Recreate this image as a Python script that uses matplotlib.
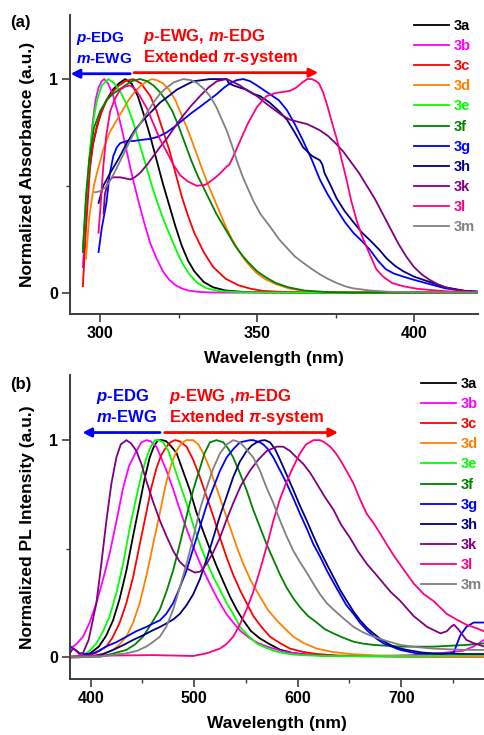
import matplotlib
matplotlib.use('Agg')
import matplotlib.pyplot as plt
from matplotlib.ticker import MultipleLocator

plt.rcParams['font.family'] = ['Liberation Sans', 'DejaVu Sans']
plt.rcParams['font.weight'] = 'bold'
plt.rcParams['mathtext.fontset'] = 'custom'
plt.rcParams['mathtext.rm'] = 'Liberation Sans:bold'
plt.rcParams['mathtext.it'] = 'Liberation Sans:italic:bold'
plt.rcParams['mathtext.bf'] = 'Liberation Sans:bold'

names = ['3a', '3b', '3c', '3d', '3e', '3f', '3g', '3h', '3k', '3l', '3m']
colors = ['#000000', '#FF00FF', '#FF0000', '#FF8000', '#00FF00', '#008000',
          '#0000FF', '#000080', '#800080', '#FF0080', '#808080']

# ---------- (a) absorbance ----------
abs_3a_x = [294.6, 296, 297.5, 299, 300.5, 302, 304, 306, 308, 310, 312, 314, 316, 318, 320, 322, 324, 326, 328, 330, 333, 336, 340, 345, 350, 360, 420]
abs_3a_y = [0.2, 0.5, 0.68, 0.78, 0.85, 0.9, 0.95, 0.98, 1.0, 0.98, 0.92, 0.83, 0.73, 0.62, 0.51, 0.41, 0.31, 0.22, 0.15, 0.1, 0.05, 0.025, 0.01, 0.004, 0.002, 0, 0]
abs_3b_x = [294.5, 295.5, 296.5, 297.5, 298.5, 299.5, 300.5, 301.3, 302.5, 304, 305.5, 307, 308.5, 310, 312, 314, 316, 318, 320, 322, 324, 326, 328, 331, 335, 340, 420]
abs_3b_y = [0.12, 0.35, 0.6, 0.78, 0.9, 0.96, 0.99, 1.0, 0.98, 0.93, 0.85, 0.76, 0.66, 0.56, 0.44, 0.33, 0.23, 0.16, 0.1, 0.06, 0.035, 0.02, 0.01, 0.004, 0.001, 0, 0]
abs_3c_x = [294.5, 295.5, 296.8, 298, 300, 302, 304, 306, 308, 310.5, 313, 316, 318, 320, 322, 324, 326, 328, 330, 333, 336, 340, 344, 348, 352, 360, 420]
abs_3c_y = [0.03, 0.3, 0.59, 0.72, 0.83, 0.9, 0.94, 0.97, 0.99, 1.0, 0.98, 0.92, 0.85, 0.76, 0.67, 0.56, 0.45, 0.36, 0.28, 0.19, 0.12, 0.065, 0.035, 0.018, 0.008, 0.002, 0]
abs_3d_x = [295.5, 296.5, 298, 299, 301, 303, 305, 307, 309, 311, 313, 315, 316.5, 318, 320, 322, 324, 326, 328, 330, 332, 334, 336, 338, 340, 342, 344, 346, 348, 350, 353, 356, 360, 365, 370, 380, 420]
abs_3d_y = [0.16, 0.35, 0.5, 0.56, 0.67, 0.75, 0.8, 0.85, 0.9, 0.94, 0.97, 0.99, 1.0, 0.995, 0.98, 0.95, 0.9, 0.83, 0.76, 0.68, 0.6, 0.52, 0.45, 0.38, 0.31, 0.25, 0.2, 0.155, 0.12, 0.09, 0.06, 0.04, 0.02, 0.008, 0.003, 0, 0]
abs_3e_x = [294.5, 295.5, 296.8, 298, 299, 300.5, 302.6, 304.5, 306.5, 308.5, 310.5, 312.5, 314.5, 316.5, 318.5, 320.5, 322.5, 324.5, 326.5, 328.5, 331, 334, 338, 345, 360, 420]
abs_3e_y = [0.2, 0.45, 0.67, 0.82, 0.9, 0.97, 1.0, 0.98, 0.94, 0.88, 0.8, 0.7, 0.6, 0.5, 0.41, 0.33, 0.26, 0.19, 0.13, 0.085, 0.045, 0.02, 0.007, 0.002, 0, 0]
abs_3f_x = [294.5, 295.5, 296.5, 298, 300, 302, 304, 306, 308, 310, 312.7, 315, 317, 319, 321, 323, 325, 327, 329, 331, 333, 335, 337, 339, 341, 343, 345, 347, 350, 353, 356, 360, 365, 372, 380, 420]
abs_3f_y = [0.19, 0.45, 0.62, 0.77, 0.85, 0.9, 0.93, 0.95, 0.97, 0.99, 1.0, 0.99, 0.97, 0.94, 0.9, 0.85, 0.78, 0.7, 0.62, 0.55, 0.49, 0.43, 0.37, 0.32, 0.27, 0.22, 0.18, 0.145, 0.1, 0.07, 0.045, 0.025, 0.01, 0.003, 0, 0]
abs_3g_x = [299.5, 300.5, 302, 303, 304.2, 305.3, 306.4, 308.5, 310.6, 313, 316, 318.5, 321.2, 324, 326.5, 329, 331.8, 334.5, 337.2, 339.5, 341.4, 343.5, 345.6, 347.8, 350, 352, 354, 357, 359.5, 362, 364.7, 367.5, 370, 372.5, 375.4, 378, 380.7, 383.5, 386, 388.5, 391, 393.5, 396.6, 400, 405, 410, 416, 420]
abs_3g_y = [0.19, 0.3, 0.42, 0.55, 0.64, 0.68, 0.7, 0.71, 0.71, 0.715, 0.72, 0.73, 0.75, 0.78, 0.81, 0.84, 0.87, 0.9, 0.93, 0.96, 0.98, 0.995, 1.0, 0.99, 0.97, 0.95, 0.93, 0.9, 0.855, 0.79, 0.71, 0.62, 0.53, 0.46, 0.39, 0.33, 0.28, 0.24, 0.2, 0.15, 0.11, 0.09, 0.075, 0.06, 0.04, 0.02, 0.008, 0.005]
abs_3h_x = [299.5, 301, 303.2, 306, 308.5, 311, 313.8, 316.5, 319.1, 321.8, 324.4, 327, 329.7, 332.5, 335, 338, 340.3, 341, 342.5, 344.5, 346.7, 349, 351, 354, 357, 359.5, 362, 364.7, 367.5, 370, 370.8, 371.5, 373.5, 375.4, 378, 380.7, 383.5, 386, 389, 391.3, 394, 396.6, 400, 405, 410, 416, 420]
abs_3h_y = [0.42, 0.5, 0.56, 0.63, 0.7, 0.76, 0.81, 0.85, 0.89, 0.92, 0.95, 0.97, 0.99, 0.995, 1.0, 1.0, 1.0, 0.98, 0.97, 0.96, 0.95, 0.93, 0.92, 0.89, 0.85, 0.81, 0.75, 0.68, 0.64, 0.62, 0.6, 0.56, 0.5, 0.44, 0.38, 0.33, 0.28, 0.245, 0.2, 0.16, 0.125, 0.1, 0.075, 0.05, 0.025, 0.009, 0.005]
abs_3k_x = [301.1, 301.5, 302.5, 304, 306.4, 308, 309.6, 311, 312.7, 315, 317, 319, 321.2, 324, 326.5, 329, 331.8, 334.5, 337.2, 340.3, 342.5, 344.6, 347, 350, 352.5, 355.2, 358, 360.5, 363, 365.8, 368, 370, 372.5, 375, 377.5, 380, 382.5, 385, 387.5, 390, 392.5, 395, 397.5, 400, 402.5, 405, 407.5, 410, 413, 416, 420]
abs_3k_y = [0.37, 0.46, 0.52, 0.54, 0.54, 0.535, 0.53, 0.54, 0.56, 0.6, 0.64, 0.68, 0.72, 0.78, 0.83, 0.875, 0.92, 0.96, 0.99, 1.0, 0.985, 0.97, 0.945, 0.92, 0.89, 0.86, 0.83, 0.81, 0.8, 0.79, 0.775, 0.76, 0.735, 0.7, 0.66, 0.61, 0.56, 0.5, 0.44, 0.37, 0.3, 0.23, 0.17, 0.12, 0.085, 0.06, 0.04, 0.025, 0.015, 0.008, 0.004]
abs_3l_x = [299.5, 300.2, 301, 302, 303.2, 304.8, 306.4, 308, 309.6, 311, 312.7, 315, 317, 319, 321.2, 323.3, 325.5, 328, 330.8, 333.5, 336, 338, 340.3, 341.2, 342.5, 344.6, 347, 350, 353, 356, 358.4, 360.5, 362.5, 364.5, 366, 367.5, 368.8, 369.7, 371, 372.5, 374, 375.4, 377, 378.5, 380, 381.7, 383.3, 385, 386.5, 388, 390, 393, 396.6, 401, 407, 412, 420]
abs_3l_y = [0.28, 0.42, 0.59, 0.74, 0.85, 0.91, 0.95, 0.965, 0.97, 0.955, 0.92, 0.86, 0.79, 0.72, 0.66, 0.6, 0.55, 0.52, 0.5, 0.505, 0.53, 0.555, 0.59, 0.6, 0.64, 0.71, 0.79, 0.87, 0.92, 0.935, 0.94, 0.945, 0.96, 0.985, 1.0, 1.0, 0.99, 0.98, 0.94, 0.87, 0.79, 0.72, 0.62, 0.53, 0.43, 0.34, 0.27, 0.21, 0.16, 0.11, 0.077, 0.045, 0.03, 0.018, 0.01, 0.005, 0.002]
abs_3m_x = [298.4, 300, 301.5, 303, 304.5, 306.5, 308.5, 310.5, 312.7, 315, 317, 319, 321.2, 323.5, 326.5, 329, 331, 333, 335, 337, 338.2, 340.3, 342, 343.5, 345.5, 348.8, 351, 354.1, 357, 359.5, 362, 364.7, 367.5, 370.1, 372.5, 375.4, 378, 380.7, 386, 392, 400, 420]
abs_3m_y = [0.47, 0.475, 0.49, 0.52, 0.56, 0.62, 0.68, 0.74, 0.79, 0.845, 0.89, 0.93, 0.96, 0.985, 1.0, 0.995, 0.98, 0.955, 0.92, 0.87, 0.83, 0.76, 0.69, 0.62, 0.54, 0.43, 0.37, 0.31, 0.25, 0.21, 0.17, 0.14, 0.11, 0.085, 0.065, 0.045, 0.03, 0.02, 0.01, 0.004, 0.002, 0.001]

# ---------- (b) PL ----------
pl_3a_x = [380, 390, 400, 408, 415, 421.6, 428, 434.5, 441, 447.4, 452, 457, 461, 465, 469, 473, 478, 483, 489, 495.8, 502, 508.7, 515, 521.6, 528, 534.5, 541, 547.4, 555, 563.5, 573, 583, 595, 610, 630, 660, 700, 740, 780]
pl_3a_y = [0.0, 0.0, 0.02, 0.05, 0.1, 0.17, 0.27, 0.4, 0.56, 0.71, 0.82, 0.92, 0.97, 1.0, 1.0, 0.995, 0.97, 0.94, 0.86, 0.77, 0.67, 0.58, 0.5, 0.42, 0.35, 0.28, 0.22, 0.17, 0.12, 0.087, 0.06, 0.035, 0.02, 0.012, 0.007, 0.005, 0.004, 0.004, 0.004]
pl_3b_x = [380, 386, 392.6, 399, 405.5, 412, 418.4, 425, 431.3, 437, 444.2, 449, 453.9, 458, 463.5, 468, 473.2, 480, 486.1, 492, 499, 505, 511.9, 518, 524.8, 531, 537.7, 545, 553.9, 562, 570, 586, 602, 630, 670, 710, 740, 760, 770, 780]
pl_3b_y = [0.04, 0.06, 0.095, 0.16, 0.25, 0.36, 0.48, 0.63, 0.78, 0.88, 0.95, 0.99, 1.0, 0.995, 0.97, 0.92, 0.86, 0.77, 0.68, 0.6, 0.51, 0.44, 0.37, 0.31, 0.25, 0.2, 0.16, 0.12, 0.087, 0.065, 0.05, 0.026, 0.015, 0.006, 0.005, 0.01, 0.02, 0.03, 0.05, 0.08]
pl_3c_x = [380, 395.8, 405, 415.2, 421, 428.1, 434.5, 441, 447.4, 453.9, 458.5, 463.5, 468, 473.2, 477, 481.3, 486, 492.6, 499, 505.5, 512, 518.4, 525, 531.3, 537.7, 544.2, 550.6, 557.1, 565, 573.2, 583, 592.6, 605, 618.4, 640, 680, 730, 780]
pl_3c_y = [0.0, 0.006, 0.02, 0.05, 0.09, 0.16, 0.25, 0.37, 0.52, 0.67, 0.78, 0.87, 0.93, 0.97, 0.99, 1.0, 0.995, 0.97, 0.91, 0.83, 0.74, 0.65, 0.55, 0.46, 0.38, 0.31, 0.25, 0.19, 0.14, 0.095, 0.065, 0.04, 0.025, 0.015, 0.008, 0.005, 0.004, 0.004]
pl_3d_x = [380, 402.3, 412, 421.6, 428, 434.5, 441, 447.4, 454, 460.3, 467, 473.2, 478, 482.9, 487.5, 492.6, 499, 504, 508.7, 515, 521.6, 528, 534.5, 541, 547.4, 555, 563.5, 571, 579.7, 588, 595.8, 606, 618.4, 633, 650.6, 675, 699, 740, 780]
pl_3d_y = [0.0, 0.003, 0.015, 0.034, 0.06, 0.095, 0.16, 0.25, 0.38, 0.52, 0.67, 0.81, 0.89, 0.95, 0.985, 1.0, 1.0, 0.98, 0.94, 0.87, 0.78, 0.69, 0.6, 0.51, 0.43, 0.35, 0.28, 0.22, 0.17, 0.13, 0.095, 0.065, 0.04, 0.025, 0.015, 0.009, 0.006, 0.005, 0.005]
pl_3e_x = [380, 392.6, 399, 405.5, 412, 418.4, 425, 431.3, 437.5, 444.2, 449, 453.9, 458, 462, 466, 470, 475, 479.7, 486, 492.6, 499, 505.5, 512, 518.4, 525, 531.3, 537.7, 544.2, 552, 560.3, 570, 579.7, 590, 602, 625, 660, 720, 780]
pl_3e_y = [0.0, 0.01, 0.03, 0.064, 0.12, 0.19, 0.3, 0.43, 0.59, 0.74, 0.84, 0.92, 0.97, 1.0, 1.0, 0.99, 0.95, 0.89, 0.8, 0.71, 0.61, 0.52, 0.44, 0.37, 0.31, 0.25, 0.2, 0.14, 0.1, 0.064, 0.042, 0.026, 0.016, 0.01, 0.006, 0.005, 0.006, 0.01]
pl_3f_x = [380, 408.7, 420, 434.5, 443, 450.6, 458, 466.8, 473, 479.7, 486, 492.6, 499, 505.5, 510, 515.2, 521.6, 528.1, 533, 537.7, 544, 550.6, 557, 563.5, 570, 576.5, 583, 589.4, 596, 602.3, 610, 618.4, 626, 634.5, 644, 653.9, 663, 673.2, 699, 731, 763, 780]
pl_3f_y = [0.0, 0.003, 0.015, 0.034, 0.06, 0.095, 0.15, 0.22, 0.3, 0.4, 0.52, 0.65, 0.77, 0.87, 0.94, 0.99, 1.0, 0.99, 0.96, 0.92, 0.85, 0.77, 0.68, 0.6, 0.52, 0.45, 0.38, 0.32, 0.27, 0.23, 0.19, 0.16, 0.13, 0.11, 0.09, 0.072, 0.063, 0.057, 0.049, 0.049, 0.057, 0.064]
pl_3g_x = [380, 385, 389.4, 395, 402, 408, 415, 425, 434.5, 444, 453.9, 460, 466.8, 473, 479.7, 486, 492.6, 499, 505.5, 512, 518.4, 525, 531.3, 538, 544.2, 549, 553.9, 557, 560.3, 563.5, 566.8, 571, 576.5, 583, 589.4, 596, 602.3, 609, 615.2, 622, 628.1, 635, 641, 647, 653.9, 660, 666.8, 675, 682.9, 699, 715, 740, 750.6, 757, 763, 770, 780]
pl_3g_y = [0.05, 0.035, 0.018, 0.015, 0.018, 0.03, 0.05, 0.07, 0.095, 0.12, 0.14, 0.155, 0.17, 0.2, 0.25, 0.32, 0.4, 0.5, 0.6, 0.7, 0.78, 0.86, 0.92, 0.96, 0.99, 0.995, 1.0, 1.0, 0.995, 0.99, 0.98, 0.96, 0.92, 0.86, 0.8, 0.73, 0.66, 0.59, 0.52, 0.46, 0.4, 0.34, 0.29, 0.24, 0.2, 0.16, 0.125, 0.09, 0.064, 0.034, 0.018, 0.015, 0.02, 0.1, 0.14, 0.16, 0.16]
pl_3h_x = [380, 402, 412, 421.6, 431, 441, 450, 460.3, 467, 473.2, 480, 486.1, 492.6, 499, 505.5, 511.9, 518.4, 524.8, 531.3, 537.7, 544, 550.6, 555.5, 560.3, 564.5, 568.4, 573.2, 578, 582.9, 589.4, 595.8, 602, 608.7, 615, 621.6, 628, 634.5, 641, 647.4, 654, 660.3, 667, 673.2, 681, 689.4, 697, 705.5, 720, 731, 750, 763, 780]
pl_3h_y = [0.0, 0.006, 0.015, 0.034, 0.055, 0.08, 0.1, 0.125, 0.14, 0.156, 0.175, 0.2, 0.24, 0.29, 0.36, 0.45, 0.55, 0.65, 0.74, 0.83, 0.9, 0.95, 0.975, 0.99, 0.998, 1.0, 0.99, 0.96, 0.91, 0.84, 0.77, 0.7, 0.63, 0.56, 0.49, 0.43, 0.37, 0.31, 0.26, 0.21, 0.17, 0.135, 0.11, 0.08, 0.057, 0.043, 0.034, 0.022, 0.018, 0.016, 0.015, 0.015]
pl_3k_x = [380, 383, 386, 389, 392.6, 398, 405.5, 410, 415.2, 420, 424.8, 429, 434.5, 439, 444.2, 449, 453.9, 460, 466.8, 473, 479.7, 486, 492.6, 500.6, 506, 511.9, 518, 524.8, 531, 537.7, 545, 553.9, 562, 570, 579.7, 586, 592.6, 599, 605.5, 612, 618.4, 626, 634.5, 642, 650.6, 658, 666.8, 675, 682.9, 690, 699, 712, 725, 738, 744, 748, 751, 755, 763, 770, 780]
pl_3k_y = [0.02, 0.04, 0.03, 0.015, 0.02, 0.08, 0.25, 0.42, 0.63, 0.8, 0.92, 0.98, 1.0, 0.985, 0.95, 0.89, 0.81, 0.72, 0.63, 0.56, 0.49, 0.44, 0.41, 0.39, 0.395, 0.43, 0.48, 0.55, 0.63, 0.71, 0.79, 0.86, 0.91, 0.95, 0.97, 0.97, 0.95, 0.92, 0.89, 0.85, 0.8, 0.74, 0.68, 0.61, 0.55, 0.49, 0.43, 0.385, 0.34, 0.3, 0.26, 0.19, 0.14, 0.11, 0.12, 0.14, 0.15, 0.13, 0.08, 0.065, 0.05]
pl_3l_x = [380, 420, 460, 499, 511.9, 524.8, 531, 537.7, 544, 550.6, 557, 563.5, 570, 576.5, 583, 589.4, 596, 602.3, 608, 615.2, 621.6, 626, 631.3, 636, 641, 647, 653.9, 660, 666.8, 673, 679.7, 686, 692.6, 700, 712, 722, 731, 744, 755, 763, 772, 780]
pl_3l_y = [0.005, 0.008, 0.01, 0.006, 0.018, 0.04, 0.06, 0.095, 0.15, 0.22, 0.3, 0.4, 0.51, 0.63, 0.73, 0.81, 0.88, 0.94, 0.98, 1.0, 1.0, 0.99, 0.97, 0.945, 0.91, 0.86, 0.8, 0.73, 0.66, 0.62, 0.57, 0.52, 0.47, 0.42, 0.34, 0.29, 0.26, 0.2, 0.17, 0.15, 0.135, 0.12]
pl_3m_x = [380, 408.7, 420, 434.5, 445, 453.9, 460, 466.8, 473, 479.7, 486, 492.6, 499, 505.5, 512, 518.4, 525, 531.3, 537.7, 544.2, 550, 557.1, 563.5, 570, 576.5, 582.9, 589, 595.8, 602, 608.7, 615, 621.6, 628, 634.5, 644, 653.9, 663, 673.2, 686, 699, 715, 731, 750, 763, 780]
pl_3m_y = [0.0, 0.003, 0.01, 0.018, 0.03, 0.05, 0.07, 0.095, 0.14, 0.22, 0.32, 0.43, 0.55, 0.68, 0.78, 0.87, 0.94, 0.98, 1.0, 0.99, 0.96, 0.92, 0.86, 0.78, 0.71, 0.63, 0.56, 0.49, 0.44, 0.39, 0.34, 0.29, 0.25, 0.22, 0.18, 0.14, 0.115, 0.095, 0.075, 0.057, 0.047, 0.04, 0.036, 0.034, 0.034]

abs_data = [(abs_3a_x, abs_3a_y), (abs_3b_x, abs_3b_y), (abs_3c_x, abs_3c_y), (abs_3d_x, abs_3d_y),
            (abs_3e_x, abs_3e_y), (abs_3f_x, abs_3f_y), (abs_3g_x, abs_3g_y), (abs_3h_x, abs_3h_y),
            (abs_3k_x, abs_3k_y), (abs_3l_x, abs_3l_y), (abs_3m_x, abs_3m_y)]
pl_data = [(pl_3a_x, pl_3a_y), (pl_3b_x, pl_3b_y), (pl_3c_x, pl_3c_y), (pl_3d_x, pl_3d_y),
           (pl_3e_x, pl_3e_y), (pl_3f_x, pl_3f_y), (pl_3g_x, pl_3g_y), (pl_3h_x, pl_3h_y),
           (pl_3k_x, pl_3k_y), (pl_3l_x, pl_3l_y), (pl_3m_x, pl_3m_y)]

fig = plt.figure(figsize=(4.84, 7.35), dpi=100)
W, H = 484, 735
ax1 = fig.add_axes([70 / W, 1 - 314 / H, 408 / W, 299 / H])
ax2 = fig.add_axes([70 / W, 1 - 679 / H, 414 / W, 304 / H])


def style_axes(ax, xlim, major, minor, ylabel, legend_x, legend_top):
    ax.set_xlim(*xlim)
    ax.set_ylim(-0.1, 1.3)
    ax.xaxis.set_major_locator(MultipleLocator(major))
    ax.xaxis.set_minor_locator(MultipleLocator(minor))
    ax.set_yticks([0, 1])
    ax.set_yticks([0.5], minor=True)
    for s in ['top', 'right']:
        ax.spines[s].set_visible(False)
    for s in ['left', 'bottom']:
        ax.spines[s].set_color('#3c3c3c')
        ax.spines[s].set_linewidth(1.4)
    ax.tick_params(which='major', direction='out', length=5.5, width=1.2, color='#3c3c3c',
                   labelsize=11.5, pad=3)
    ax.tick_params(which='minor', direction='out', length=3, width=1.0, color='#3c3c3c')
    for lab in ax.get_xticklabels() + ax.get_yticklabels():
        lab.set_fontweight('bold')
    ax.set_xlabel('Wavelength (nm)', fontsize=12.5, fontweight='bold', labelpad=7)
    ax.set_ylabel(ylabel, fontsize=12.5, fontweight='bold', labelpad=10)
    ax.legend(loc='upper left', bbox_to_anchor=(legend_x / W, 1 - legend_top / H),
              bbox_transform=fig.transFigure, frameon=False, labelcolor='linecolor',
              prop={'weight': 'bold', 'size': 10.5}, handlelength=2.4, handletextpad=0.35,
              labelspacing=0.42, borderpad=0, borderaxespad=0)


for (x, y), name, c in zip(abs_data, names, colors):
    ax1.plot(x, y, color=c, lw=1.3, label=name)
for (x, y), name, c in zip(pl_data, names, colors):
    ax2.plot(x, y, color=c, lw=1.3, label=name)

style_axes(ax1, (290.4, 420.4), 50, 25, 'Normalized Absorbance (a.u.)', 414, 19)
style_axes(ax2, (380, 780), 100, 50, 'Normalized PL Intensity (a.u.)', 421, 377)

fig.text(10 / W, 1 - 22 / H, '(a)', fontsize=12, fontweight='bold', va='center')
fig.text(10 / W, 1 - 385 / H, '(b)', fontsize=12, fontweight='bold', va='center')

# annotations (a)
blue_a = dict(fontsize=11, fontweight='bold', va='center', ha='left', color='#0000FF')
red_txt = dict(fontsize=12, fontweight='bold', va='center', ha='left', color='#FF0000')
blue_b = dict(fontsize=12, fontweight='bold', va='center', ha='left', color='#0000FF')
ax1.text(292.4, 1.19, r'$p$-EDG', **blue_a)
ax1.text(292.4, 1.095, r'$m$-EWG', **blue_a)
ax1.text(313.8, 1.2, r'$p$-EWG, $m$-EDG', **red_txt)
ax1.text(313.8, 1.1, r'Extended $\pi$-system', **red_txt)
ax1.annotate('', xy=(290.6, 1.025), xytext=(309.6, 1.025),
             arrowprops=dict(arrowstyle='-|>', color='#0000FF', lw=2, mutation_scale=13, shrinkA=0, shrinkB=0))
ax1.annotate('', xy=(369.5, 1.03), xytext=(310.8, 1.03),
             arrowprops=dict(arrowstyle='-|>', color='#FF0000', lw=2, mutation_scale=13, shrinkA=0, shrinkB=0))

# annotations (b)
ax2.text(405.5, 1.2, r'$p$-EDG', **blue_b)
ax2.text(405.5, 1.105, r'$m$-EWG', **blue_b)
ax2.text(475.5, 1.2, r'$p$-EWG ,$m$-EDG', **red_txt)
ax2.text(475.5, 1.105, r'Extended $\pi$-system', **red_txt)
ax2.annotate('', xy=(392, 1.035), xytext=(467, 1.035),
             arrowprops=dict(arrowstyle='-|>', color='#0000FF', lw=2, mutation_scale=13, shrinkA=0, shrinkB=0))
ax2.annotate('', xy=(639, 1.035), xytext=(471.5, 1.035),
             arrowprops=dict(arrowstyle='-|>', color='#FF0000', lw=2, mutation_scale=13, shrinkA=0, shrinkB=0))

fig.savefig('out.png', dpi=100)
